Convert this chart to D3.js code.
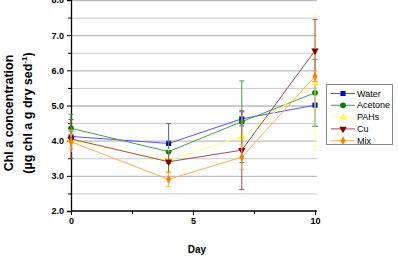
<!DOCTYPE html>
<html><head><meta charset="utf-8">
<script src="https://cdn.jsdelivr.net/npm/d3@7"></script>
<style>body{margin:0;background:#fff}svg{display:block}text{font-family:"Liberation Sans",Arial,sans-serif}</style>
</head><body><svg id="c" width="398" height="263"></svg>
<script>
const days = [0, 4, 7, 10];
const seriesNames = ["Water", "Acetone", "PAHs", "Cu", "Mix"];
const water = [4.12, 3.92, 4.62, 5.01];
const waterErr = [0.15, 0.57, 0.2, 0.6];
const acetone = [4.35, 3.69, 4.54, 5.36];
const acetoneErr = [0.4, 0.3, 1.16, 0.95];
const pahs = [4.0, 3.45, 4.11, 5.65];
const pahsErr = [0.3, 0.3, 0.6, 1.92];
const cu = [4.05, 3.4, 3.73, 6.56];
const cuErr = [0.55, 0.3, 1.12, 0.88];
const mix = [3.97, 2.9, 3.53, 5.83];
const mixErr = [0.2, 0.2, 0.35, 0.15];
const yTicks = [2, 3, 4, 5, 6, 7, 8];
const xTicks = [0, 5, 10];

const svg = d3.select("#c");
const x = d3.scaleLinear().domain([0, 10]).range([71, 315]);
const y = d3.scaleLinear().domain([2, 8]).range([211, 0]);

const series = [
  {name: "Water", v: water, e: waterErr, c: "#0000cc", lc: "#5555ee", m: "square"},
  {name: "Acetone", v: acetone, e: acetoneErr, c: "#008000", lc: "#44a044", m: "circle"},
  {name: "PAHs", v: pahs, e: pahsErr, c: "#ffff33", lc: "#ffff88", m: "triangle"},
  {name: "Cu", v: cu, e: cuErr, c: "#800000", lc: "#a05050", m: "tridown"},
  {name: "Mix", v: mix, e: mixErr, c: "#ff8000", lc: "#ffaa55", m: "diamond"}
];

// gridlines every 0.5
const grid = d3.range(2.5, 8.01, 0.5);
svg.append("g").selectAll("line").data(grid).join("line")
  .attr("x1", x(0)).attr("x2", 317)
  .attr("y1", d => y(d) + 0.5).attr("y2", d => y(d) + 0.5)
  .attr("stroke", d => (Math.round(d*2) % 2 === 0) ? "#bdbdbd" : "#c8c8c8")
  .attr("stroke-width", d => (Math.round(d*2) % 2 === 0) ? 1.3 : 1);

// axes
const yAxis = d3.axisLeft(y).tickValues(yTicks).tickFormat(d3.format(".1f")).tickSize(4).tickPadding(3);
const gy = svg.append("g").attr("transform", "translate(71,0)").call(yAxis);
gy.select(".domain").attr("stroke", "#000").attr("stroke-width", 1.3);
gy.selectAll("text").attr("font-size", 9).attr("font-weight", "bold").attr("fill", "#000");
const yMinor = d3.axisLeft(y).tickValues(d3.range(2.5, 8, 1)).tickFormat("").tickSize(3);
svg.append("g").attr("transform", "translate(71,0)").call(yMinor).select(".domain").remove();

const xAxis = d3.axisBottom(x).tickValues(xTicks).tickFormat(d3.format("d")).tickSize(4).tickPadding(3);
const gx = svg.append("g").attr("transform", "translate(0,211)").call(xAxis);
gx.select(".domain").attr("stroke", "#000").attr("stroke-width", 1.3).attr("d", "M71,0H317");
gx.selectAll("text").attr("font-size", 9).attr("font-weight", "bold").attr("fill", "#000");
const xMinor = d3.axisBottom(x).tickValues([2.5, 7.5]).tickFormat("").tickSize(3);
svg.append("g").attr("transform", "translate(0,211)").call(xMinor).select(".domain").remove();

function sym(m) {
  const t = {square: d3.symbolSquare, circle: d3.symbolCircle, triangle: d3.symbolTriangle, tridown: d3.symbolTriangle, diamond: d3.symbolDiamond}[m];
  const s = {square: 26, circle: 26, triangle: 24, tridown: 24, diamond: 22}[m];
  return d3.symbol().type(t).size(s)();
}

const line = d3.line().x((d, i) => x(days[i])).y(d => y(d));

series.forEach(s => {
  const g = svg.append("g");
  // error bars
  days.forEach((d, i) => {
    const cx = x(d), top = y(s.v[i] + s.e[i]), bot = y(s.v[i] - s.e[i]);
    g.append("line").attr("x1", cx).attr("x2", cx).attr("y1", top).attr("y2", bot).attr("stroke", s.lc).attr("stroke-width", 1);
    [top, bot].forEach(yy => g.append("line").attr("x1", cx - 2.5).attr("x2", cx + 2.5).attr("y1", yy).attr("y2", yy).attr("stroke", s.lc).attr("stroke-width", 1));
  });
  g.append("path").attr("d", line(s.v)).attr("fill", "none").attr("stroke", s.lc).attr("stroke-width", 1);
  g.selectAll("path.m").data(s.v).join("path").attr("class", "m")
    .attr("d", sym(s.m))
    .attr("transform", (v, i) => `translate(${x(days[i])},${y(v)})` + (s.m === "tridown" ? " rotate(180)" : ""))
    .attr("fill", s.c);
});

// legend
const lg = svg.append("g");
lg.append("rect").attr("x", 326.5).attr("y", 84.5).attr("width", 66).attr("height", 60)
  .attr("fill", "#fff").attr("stroke", "#888").attr("stroke-width", 1);
series.forEach((s, i) => {
  const ly = 93.5 + i * 11.8;
  lg.append("line").attr("x1", 331).attr("x2", 355).attr("y1", ly).attr("y2", ly).attr("stroke", s.lc).attr("stroke-width", 1);
  lg.append("path").attr("d", sym(s.m)).attr("transform", `translate(343,${ly})` + (s.m === "tridown" ? " rotate(180)" : "")).attr("fill", s.c);
  lg.append("text").attr("x", 357).attr("y", ly).attr("dy", "0.35em").attr("font-size", 9).attr("fill", "#000").text(s.name);
});

// titles
svg.append("text").attr("x", 197).attr("y", 249).attr("dy", "0.35em").attr("text-anchor", "middle")
  .attr("font-size", 10).attr("font-weight", "bold").text("Day");
const yt = svg.append("text").attr("transform", "translate(13,113) rotate(-90)").attr("text-anchor", "middle")
  .attr("font-size", 12.5).attr("font-weight", "bold");
yt.append("tspan").attr("x", 0).attr("y", 0).text("Chl a concentration");
const t2 = yt.append("tspan").attr("x", 0).attr("y", 19);
t2.append("tspan").text("(µg chl a g dry sed");
t2.append("tspan").attr("dy", -5).attr("font-size", 8).text("-1");
t2.append("tspan").attr("dy", 5).text(")");
</script></body></html>
